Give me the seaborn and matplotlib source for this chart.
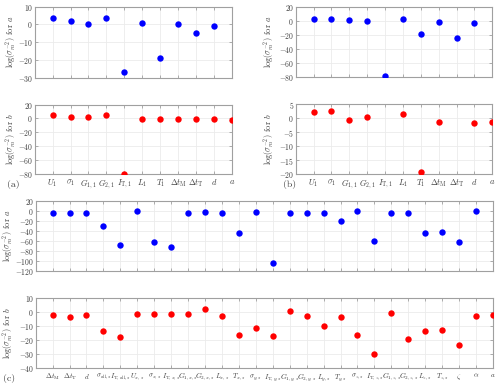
import numpy as np
import pandas as pd
import matplotlib
matplotlib.use("Agg")
import matplotlib.pyplot as plt
import seaborn as sns

# ===================================================================
# Data
# ===================================================================

PARAMS_AB = [r"$U_1$", r"$\sigma_1$", r"$G_{1,1}$", r"$G_{2,1}$", r"$I_{\mathrm{T},1}$",
             r"$L_1$", r"$T_1$", r"$\Delta t_{\mathrm{M}}$", r"$\Delta t_{\mathrm{T}}$",
             r"$d$", r"$a$"]

a_for_a = [3.4, 1.7, 0.2, 3.4, -26.9, 0.9, -18.8, 0.0, -4.7, -1.1, np.nan]
a_for_b = [4.3, 2.4, 1.4, 4.3, -79.5, -1.0, -1.0, -1.0, -1.4, -1.0, -1.9]
b_for_a = [2.9, 2.9, 0.5, 0.0, -78.0, 1.9, -18.6, -1.9, -24.8, -3.8, np.nan]
b_for_b = [2.3, 2.6, -0.6, 0.4, np.nan, 1.4, -19.3, -1.5, np.nan, -1.8, -1.2]

PARAMS_C = [r"$\Delta t_{\mathrm{M}}$", r"$\Delta t_{\mathrm{T}}$", r"$d$",
            r"$\sigma_{\mathrm{all},s}$", r"$I_{\mathrm{T},\mathrm{all},s}$",
            r"$U_{x,s}$", r"$\sigma_{x,s}$", r"$I_{\mathrm{T},x,s}$", r"$G_{1,x,s}$",
            r"$G_{2,x,s}$", r"$L_{x,s}$", r"$T_{x,s}$",
            r"$\sigma_{y,s}$", r"$I_{\mathrm{T},y,s}$", r"$G_{1,y,s}$", r"$G_{2,y,s}$",
            r"$L_{y,s}$", r"$T_{y,s}$",
            r"$\sigma_{z,s}$", r"$I_{\mathrm{T},z,s}$", r"$G_{1,z,s}$", r"$G_{2,z,s}$",
            r"$L_{z,s}$", r"$T_{z,s}$",
            r"$\zeta$", r"$\alpha$", r"$a$"]

c_for_a = [-3, -4, -4, -29, -67, 0, -62, -72, -4, -2, -4, -44,
           -2, -105, -3, -3, -3, -19,
           0, -60, -4, -3, -44, -42,
           -61, 0, np.nan]
c_for_b = [-2.1, -3.1, -1.9, -13.3, -17.9, -1.2, -1.4, -0.9, -1.4, 2.6, -2.4, -16.5,
           -11.4, -16.7, 1.2, -2.6, -9.5, -3.4,
           -16.5, -29.8, -0.7, -19.1, -13.3, -12.4,
           -23.1, -2.4, -2.1]

BLUE = "#0000ff"
RED = "#ff0000"
EDGE = "#a0a0a0"
TEXT = "#404040"

# ===================================================================
# Style
# ===================================================================

sns.set_theme(style="whitegrid")
plt.rcParams.update({
    "font.family": "cmr10",
    "mathtext.fontset": "cm",
    "axes.formatter.use_mathtext": True,
    "axes.edgecolor": EDGE,
    "axes.linewidth": 0.8,
    "grid.color": "#ebebeb",
    "grid.linewidth": 0.6,
    "xtick.color": TEXT,
    "ytick.color": TEXT,
    "xtick.labelcolor": TEXT,
    "ytick.labelcolor": TEXT,
    "axes.labelcolor": TEXT,
})


def panel(fig, rect, cats, values, color, ylim, yticks, ylabel, show_x, label_x,
          xsize=6):
    ax = fig.add_axes(rect)
    df = pd.DataFrame({"param": cats, "value": values})
    sns.stripplot(data=df, x="param", y="value", order=cats, color=color,
                  jitter=False, size=4.6, linewidth=0, ax=ax, zorder=3)
    n = len(cats)
    ax.set_xlim(-0.98, n - 1)
    ax.set_ylim(*ylim)
    ax.set_yticks(yticks)
    ax.set_xticks(range(n))
    ax.grid(True, axis="both", color="#ebebeb", linewidth=0.6)
    ax.set_axisbelow(True)
    for s in ax.spines.values():
        s.set_visible(True)
        s.set_color(EDGE)
        s.set_linewidth(0.8)
    ax.tick_params(direction="in", length=2.5, width=0.6, color=EDGE,
                   top=True, right=True, bottom=True, left=True,
                   labelsize=5.5, pad=1.5)
    ax.tick_params(axis="x", labelsize=xsize, pad=2.5)
    if show_x:
        ax.set_xticklabels(cats)
    else:
        ax.set_xticklabels([])
    ax.set_xlabel("")
    ax.set_ylabel(ylabel, fontsize=6)
    ax.yaxis.set_label_coords(label_x, 0.5)
    return ax


fig = plt.figure(figsize=(5.0, 3.86), dpi=100)

lab_a = r"$\log(\sigma_m^{-2})$ for $a$"
lab_b = r"$\log(\sigma_m^{-2})$ for $b$"

# (a)
panel(fig, [0.070, 0.7987, 0.394, 0.184], PARAMS_AB, a_for_a, BLUE,
      (-30, 10), [-30, -20, -10, 0, 10], lab_a, False, -0.082)
panel(fig, [0.070, 0.5492, 0.394, 0.180], PARAMS_AB, a_for_b, RED,
      (-80, 20), [-80, -60, -40, -20, 0, 20], lab_b, True, -0.082)

# (b)
panel(fig, [0.592, 0.8000, 0.3926, 0.183], PARAMS_AB, b_for_a, BLUE,
      (-80, 20), [-80, -60, -40, -20, 0, 20], lab_a, False, -0.097)
panel(fig, [0.592, 0.5492, 0.3926, 0.1806], PARAMS_AB, b_for_b, RED,
      (-20, 5), [-20, -15, -10, -5, 0, 5], lab_b, True, -0.097)

# (c)
panel(fig, [0.072, 0.298, 0.914, 0.181], PARAMS_C, c_for_a, BLUE,
      (-120, 20), [-120, -100, -80, -60, -40, -20, 0, 20], lab_a, False, -0.043)
panel(fig, [0.072, 0.0459, 0.914, 0.181], PARAMS_C, c_for_b, RED,
      (-40, 10), [-40, -30, -20, -10, 0, 10], lab_b, True, -0.043, xsize=5.2)

fig.text(0.014, 0.522, "(a)", fontsize=7, color=TEXT, va="center")
fig.text(0.566, 0.522, "(b)", fontsize=7, color=TEXT, va="center")
fig.text(0.006, 0.020, "(c)", fontsize=7, color=TEXT, va="center")

fig.savefig("out.png", dpi=100)
plt.close(fig)
